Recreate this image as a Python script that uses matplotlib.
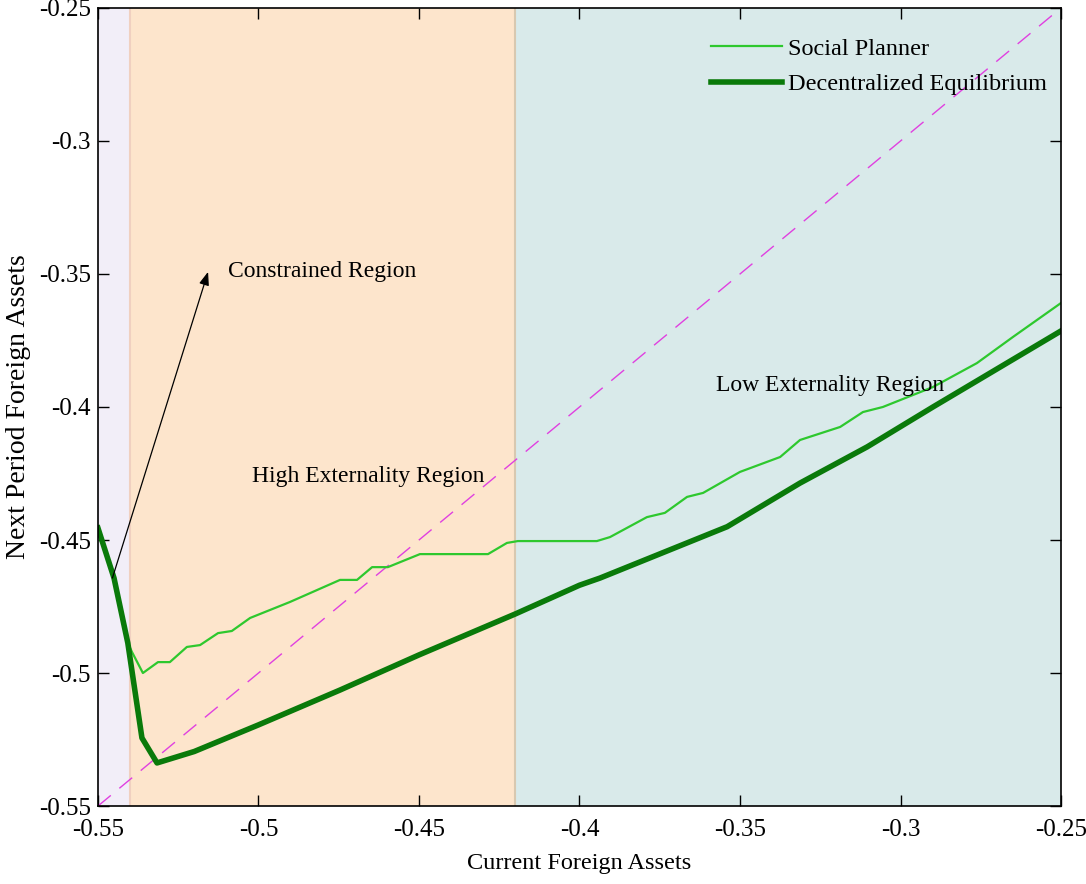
import matplotlib.pyplot as plt
import numpy as np

plt.rcParams['font.family'] = ['Liberation Serif', 'DejaVu Serif']

# Social planner policy (thin line)
sp_x = [-0.55, -0.545, -0.5407, -0.5394, -0.536, -0.5313, -0.5276, -0.5223, -0.5182,
        -0.5126, -0.5083, -0.5026, -0.4902, -0.4746, -0.4693, -0.4646, -0.4597,
        -0.4497, -0.4285, -0.4226, -0.4192, -0.3946, -0.3905, -0.379, -0.3734,
        -0.3665, -0.3615, -0.35, -0.3375, -0.3313, -0.3188, -0.3117, -0.3055,
        -0.2899, -0.2762, -0.265, -0.25]
sp_y = [-0.4455, -0.4643, -0.4887, -0.4921, -0.5, -0.4959, -0.4959, -0.4902, -0.4895,
        -0.485, -0.4842, -0.4793, -0.4733, -0.465, -0.465, -0.4602, -0.4602,
        -0.4553, -0.4553, -0.4511, -0.4504, -0.4504, -0.4489, -0.4414, -0.4398,
        -0.4338, -0.4323, -0.4244, -0.4188, -0.4124, -0.4075, -0.4019, -0.4,
        -0.3925, -0.3835, -0.3737, -0.3609]

# Decentralized equilibrium policy (thick line)
de_x = [-0.55, -0.545, -0.5407, -0.5363, -0.5316, -0.52, -0.5, -0.4746, -0.45,
        -0.42, -0.4, -0.3936, -0.354, -0.3313, -0.3104, -0.2899, -0.25]
de_y = [-0.4455, -0.4643, -0.4887, -0.5244, -0.5338, -0.5295, -0.5195, -0.5064, -0.4932,
        -0.4778, -0.467, -0.4643, -0.445, -0.4286, -0.415, -0.4, -0.3714]

ticks = [-0.55, -0.5, -0.45, -0.4, -0.35, -0.3, -0.25]
tick_labels = ['-0.55', '-0.5', '-0.45', '-0.4', '-0.35', '-0.3', '-0.25']

fig = plt.figure(figsize=(10.86, 8.84), dpi=100)
ax = fig.add_axes([0.0902, 0.0882, 0.8868, 0.9028])

ax.axvspan(-0.55, -0.54, color='#f2eef8', zorder=0)
ax.axvspan(-0.54, -0.42, color='#fde5cc', zorder=0)
ax.axvspan(-0.42, -0.25, color='#d9eaea', zorder=0)
ax.axvline(-0.54, color='#f0d0c0', lw=1.5, zorder=0.5)
ax.axvline(-0.42, color='#d8c8b0', lw=1.5, zorder=0.5)

ax.plot([-0.55, -0.25], [-0.55, -0.25], color='#e040e0', lw=1, ls=(0, (12, 8)))
ax.plot(sp_x, sp_y, color='#2ec82e', lw=1.6, label='Social Planner')
ax.plot(de_x, de_y, color='#0a7a0a', lw=4, label='Decentralized Equilibrium')

ax.annotate('', xy=(-0.5157, -0.3492), xytext=(-0.5455, -0.4643),
            arrowprops=dict(arrowstyle='-|>,head_length=0.8,head_width=0.3',
                            color='black', lw=0.9, shrinkA=0, shrinkB=0))
ax.text(-0.5095, -0.3489, 'Constrained Region', fontsize=17, va='center')
ax.text(-0.502, -0.426, 'High Externality Region', fontsize=17, va='center')
ax.text(-0.3575, -0.392, 'Low Externality Region', fontsize=17, va='center')

ax.set_xlim(-0.55, -0.25)
ax.set_ylim(-0.55, -0.25)
ax.set_xticks(ticks)
ax.set_xticklabels(tick_labels)
ax.set_yticks(ticks)
ax.set_yticklabels(tick_labels)
ax.tick_params(direction='in', top=True, right=True, labelsize=18, length=8, width=1)
ax.tick_params(axis='x', pad=9)
ax.tick_params(axis='y', pad=5)
for s in ax.spines.values():
    s.set_linewidth(1.2)

ax.set_xlabel('Current Foreign Assets', fontsize=17.5, labelpad=9)
ax.set_ylabel('Next Period Foreign Assets', fontsize=20, labelpad=6)

ax.legend(loc='upper right', frameon=False, fontsize=17.5, handlelength=2.9,
          handletextpad=0.25, bbox_to_anchor=(1.008, 0.99), labelspacing=0.55)

fig.savefig('out.png', dpi=100)
